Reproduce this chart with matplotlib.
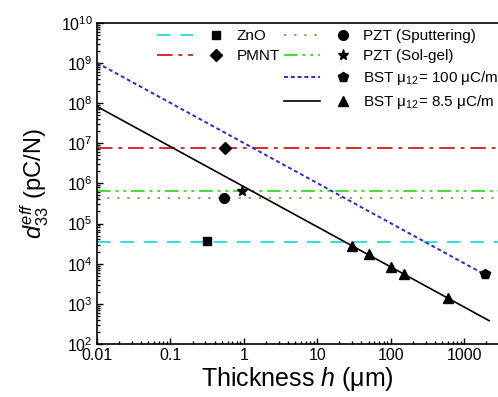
import numpy as np
import matplotlib
matplotlib.use("Agg")
import matplotlib.pyplot as plt
from matplotlib.legend_handler import HandlerTuple
from matplotlib.ticker import LogLocator, FixedLocator, FixedFormatter, NullFormatter

plt.rcParams['font.family'] = ['Liberation Sans', 'DejaVu Sans']
plt.rcParams['mathtext.fontset'] = 'custom'
plt.rcParams['mathtext.rm'] = 'Liberation Sans'
plt.rcParams['mathtext.it'] = 'Liberation Sans:italic'
plt.rcParams['mathtext.bf'] = 'Liberation Sans:bold'
plt.rcParams['mathtext.default'] = 'regular'

# horizontal reference levels (pC/N)
zno_level = 3.5e4
pmnt_level = 7.8e6
pzt_sput_level = 4.2e5
pzt_solgel_level = 6.5e5

# measured points: thickness (um), d33 eff (pC/N)
zno_h, zno_d = [0.32], [3.6e4]
pmnt_h, pmnt_d = [0.56], [7.8e6]
pzt_sput_h, pzt_sput_d = [0.53], [4.2e5]
pzt_solgel_h, pzt_solgel_d = [0.93], [6.4e5]
bst100_h, bst100_d = [1900], [5.4e3]
bst85_h = [30, 50, 100, 150, 600]
bst85_d = [2.8e4, 1.7e4, 8.3e3, 5.6e3, 1.4e3]

# flexoelectric scaling lines (end points)
bst100_line_h = [0.01, 1900]
bst100_line_d = [1.0e9, 5.4e3]
bst85_line_h = [0.01, 2200]
bst85_line_d = [8.2e7, 3.8e2]

xticks = [0.01, 0.1, 1, 10, 100, 1000]
xticklabels = ['0.01', '0.1', '1', '10', '100', '1000']

fig = plt.figure(figsize=(4.98, 3.97), dpi=100)
ax = fig.add_axes([97 / 498, 1 - 344 / 397, 1 - 97 / 498, (344 - 22.7) / 397])

ax.set_xscale('log')
ax.set_yscale('log')
ax.set_xlim(0.01, 2900)
ax.set_ylim(1e2, 1e10)

lw = 1.4
l_zno = ax.axhline(zno_level, color='#33dde0', lw=lw, ls=(0, (7, 5)))
l_pmnt = ax.axhline(pmnt_level, color='#e02828', lw=lw, ls=(0, (8, 3, 2, 3)))
l_sput = ax.axhline(pzt_sput_level, color='#a09a50', lw=lw, ls=(0, (1.2, 4)))
l_sol = ax.axhline(pzt_solgel_level, color='#44dd33', lw=lw, ls=(0, (7, 2.5, 1.5, 2.5, 1.5, 2.5)))
l_b100, = ax.plot(bst100_line_h, bst100_line_d, color='#2a2ad0', lw=lw, ls=(0, (2, 1.5)))
l_b85, = ax.plot(bst85_line_h, bst85_line_d, color='black', lw=1.2, ls='-')

m_zno, = ax.plot(zno_h, zno_d, 's', color='black', ms=5.5, ls='none')
m_pmnt, = ax.plot(pmnt_h, pmnt_d, 'D', color='black', ms=6, ls='none')
m_sput, = ax.plot(pzt_sput_h, pzt_sput_d, 'o', color='black', ms=7, ls='none')
m_sol, = ax.plot(pzt_solgel_h, pzt_solgel_d, '*', color='black', ms=8, ls='none')
m_b100, = ax.plot(bst100_h, bst100_d, 'p', color='black', ms=7.5, ls='none')
m_b85, = ax.plot(bst85_h, bst85_d, '^', color='black', ms=7, ls='none')

ax.xaxis.set_major_locator(FixedLocator(xticks))
ax.xaxis.set_major_formatter(FixedFormatter(xticklabels))
ax.xaxis.set_minor_locator(LogLocator(base=10, subs=np.arange(2, 10), numticks=100))
ax.xaxis.set_minor_formatter(NullFormatter())
ax.yaxis.set_major_locator(LogLocator(base=10, numticks=100))
ax.yaxis.set_minor_locator(LogLocator(base=10, subs=np.arange(2, 10), numticks=100))
ax.yaxis.set_minor_formatter(NullFormatter())

ax.tick_params(which='both', direction='in', top=False, right=False, labelsize=11.5, width=1)
ax.tick_params(which='major', length=4)
ax.tick_params(which='minor', length=2.2)
ax.tick_params(axis='x', pad=3)
ax.tick_params(axis='y', pad=3)
ax.spines['right'].set_visible(False)
for s in ['left', 'bottom', 'top']:
    ax.spines[s].set_linewidth(1.2)

ax.set_xlabel(r'Thickness $\mathit{h}$ (μm)', fontsize=18, labelpad=1)
ax.set_ylabel(r'$\mathit{d}_{33}^{\mathit{eff}}$ (pC/N)', fontsize=17, labelpad=7)

hkw = dict(handler_map={tuple: HandlerTuple(ndivide=None, pad=0.35)},
           handlelength=5.0, handletextpad=0.2, frameon=False, fontsize=11,
           borderpad=0, borderaxespad=0, labelspacing=0.4, loc='upper left',
           bbox_transform=fig.transFigure)
fig.legend([(l_zno, m_zno), (l_pmnt, m_pmnt)], ['ZnO', 'PMNT'],
           bbox_to_anchor=(157 / 498, 1 - 29 / 397), **hkw)
fig.legend([(l_sput, m_sput), (l_sol, m_sol), (l_b100, m_b100), (l_b85, m_b85)],
           ['PZT (Sputtering)', 'PZT (Sol-gel)',
            'BST μ$_{12}$= 100 μC/m', 'BST μ$_{12}$= 8.5 μC/m'],
           bbox_to_anchor=(284 / 498, 1 - 29 / 397), **hkw)

fig.savefig('out.png', dpi=100, facecolor='white')
